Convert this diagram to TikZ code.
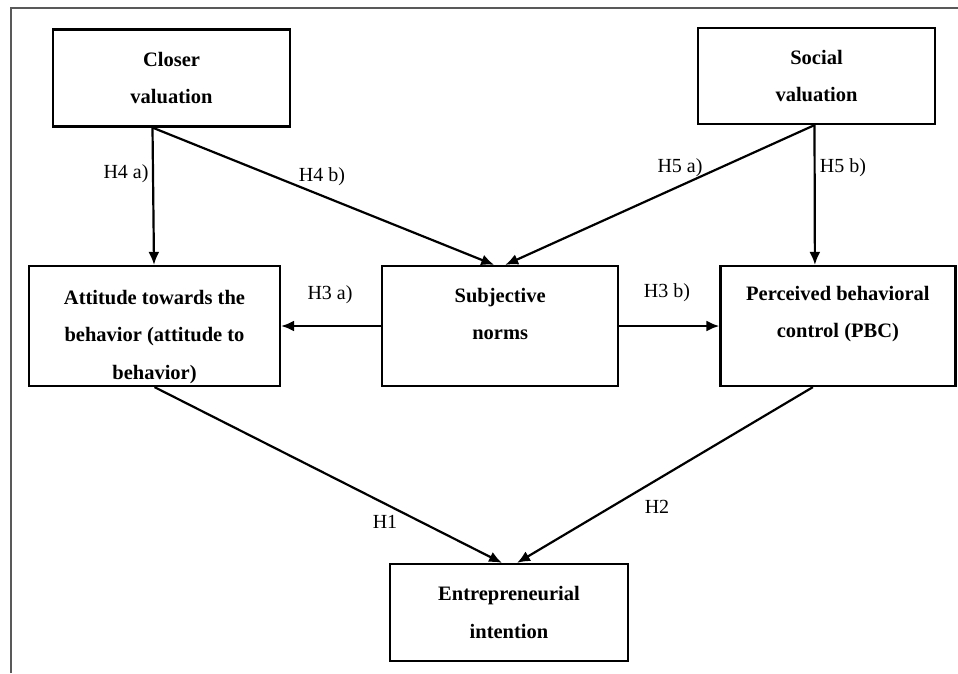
\documentclass[tikz,border=0pt]{standalone}
\usepackage{fontspec}
\setmainfont{Liberation Serif}
\usetikzlibrary{arrows.meta,positioning}

\begin{document}
\begin{tikzpicture}[x=1pt,y=-1pt]
		\newcommand\bfs{\fontsize{20.5}{37.5}\selectfont\bfseries}
		\newcommand\gap{100pt}
		\newcommand\wid{236pt}
		\newcommand\hei{120pt}
		\tikzset{
			factor/.style={draw, line width=2.2pt, align=center, inner sep=0pt, font=\bfs},
			hyp/.style={-{Latex[length=13pt, width=11pt]}, line width=2.2pt},
			hlabel/.style={font=\fontsize{20}{24}\selectfont, inner sep=0pt},
		}
		\useasboundingbox (0,0) rectangle (958,673);
		% frame
		\draw[line width=2pt, black!65] (11,673) -- (11,8) -- (958,8);
		% antecedents
		\node[factor, minimum width=237pt, minimum height=97pt] (closer) at (171.5,78) {Closer\\valuation};
		\node[factor, minimum width=237pt, minimum height=96pt] (social) at (816.5,76) {Social\\valuation};
		% TPB factors
		\node[factor, minimum width=251pt, minimum height=\hei, text height=111pt] (attitude) at (154.5,326) {Attitude towards the\\behavior (attitude to\\behavior)};
		\node[factor, minimum width=\wid, minimum height=\hei, text depth=24pt, right=\gap of attitude] (norms) {Subjective\\norms};
		\node[factor, minimum width=235pt, minimum height=\hei, text depth=28pt, right=\gap of norms] (pbc) {Perceived behavioral\\control (PBC)};
		% outcome
		\node[factor, minimum width=238pt, minimum height=97pt] (intention) at (509,612.5) {Entrepreneurial\\intention};
		% hypothesis labels
		\node[hlabel] (h4a) at (126,174) {H4 a)};
		\node[hlabel] (h4b) at (322,177) {H4 b)};
		\node[hlabel] (h5a) at (680,168) {H5 a)};
		\node[hlabel] (h5b) at (843,168) {H5 b)};
		\node[hlabel] (h3a) at (330,295) {H3 a)};
		\node[hlabel] (h3b) at (667,293) {H3 b)};
		\node[hlabel] (h1) at (385,522) {H1};
		\node[hlabel] (h2) at (657,507) {H2};

		\draw[hyp] ([xshift=-19pt]closer.south) -- ([xshift=-0.5pt]attitude.north);
		\draw[hyp] ([xshift=-19pt]closer.south) -- ([xshift=-6pt]norms.north);
		\draw[hyp] ([xshift=-2pt]social.south) -- ([xshift=5pt]norms.north);
		\draw[hyp] ([xshift=-2pt]social.south) -- ([xshift=-23pt]pbc.north);
		\draw[hyp] (norms.west) -- (attitude.east);
		\draw[hyp] (norms.east) -- (pbc.west);
		\draw[hyp] (attitude.south) -- ([xshift=-7pt]intention.north);
		\draw[hyp] ([xshift=-25pt]pbc.south) -- ([xshift=8pt]intention.north);
\end{tikzpicture}
\end{document}
